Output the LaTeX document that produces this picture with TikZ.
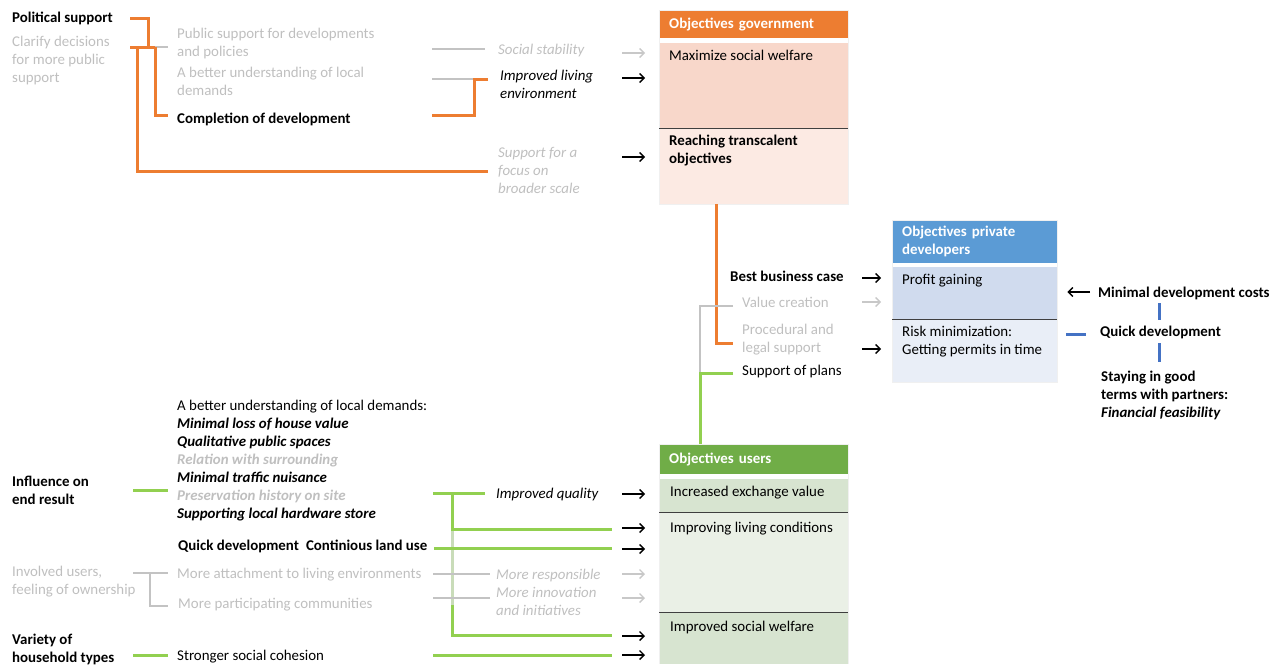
\documentclass[tikz,border=0pt]{standalone}
\usepackage{fontspec}
\setmainfont{Carlito}
\usetikzlibrary{arrows.meta}

\definecolor{orn}{HTML}{ED7D31}
\definecolor{gtx}{HTML}{BFBFBF}
\definecolor{garr}{HTML}{C8C8C8}
\definecolor{gln}{HTML}{C3C3C3}
\definecolor{grn}{HTML}{92D050}
\definecolor{grnpale}{HTML}{C9DCB9}
\definecolor{grnh}{HTML}{70AD47}
\definecolor{blu}{HTML}{5B9BD5}
\definecolor{bluln}{HTML}{4472C4}
\definecolor{gov1}{HTML}{F8D7CA}
\definecolor{gov2}{HTML}{FCEAE3}
\definecolor{dev1}{HTML}{D0DBEE}
\definecolor{dev2}{HTML}{E9EEF7}
\definecolor{usr1}{HTML}{D7E4D0}
\definecolor{usr2}{HTML}{EAF0E6}
\definecolor{sep}{HTML}{3F3F3F}
\definecolor{rim}{HTML}{F0F0F0}

\newcommand\fs{\fontsize{14.9pt}{18pt}\selectfont}
\newcommand\bi[1]{\textbf{\textit{#1}}}

\tikzset{
  txt/.style={anchor=north west, yshift=7pt, inner sep=0pt, align=left,
              font=\fs, execute at begin node=\strut},
  bld/.style={font=\fs\bfseries},
  itl/.style={font=\fs\itshape},
  dim/.style={text=gtx},
  hdr/.style={anchor=north west, text width=169pt, inner xsep=10pt, inner ysep=0pt,
              text=white, font=\fs\bfseries, align=left},
  body/.style={anchor=north west, inner sep=0pt, draw=none},
  sepl/.style={draw=sep, line width=1.5pt},
  rimline/.style={draw=rim, line width=0.6pt},
  ol/.style={draw=orn, line width=3pt},
  gl/.style={draw=gln, line width=2.6pt},
  grl/.style={draw=grn, line width=3pt},
  pal/.style={draw=grnpale, line width=3pt},
  bl/.style={draw=bluln, line width=3pt},
  arr/.style={line width=1.4pt, -{Straight Barb[length=4.5pt,width=9pt]}},
}

\begin{document}
\begin{tikzpicture}[x=1pt, y=-1pt]
\useasboundingbox (0,0) rectangle (1285,664);

% ---------- objectives tables ----------
% government
\node[hdr, fill=orn, minimum height=28pt] (govh) at (659,10) {Objectives government};
\node[body, fill=gov1, minimum width=189pt, minimum height=85pt] (govb1) at (659,43) {};
\node[body, fill=gov2, minimum width=189pt, minimum height=76pt] (govb2) at (659,128) {};
\draw[rimline] (govh.north west) rectangle (govb2.south east);
\draw[sepl] (govb1.south west) -- (govb1.south east);
\node[txt] (t_max) at (669,55) {Maximize social welfare};
\node[txt, bld] (t_reach) at (669,142) {Reaching transcalent\\objectives};

% private developers
\node[hdr, fill=blu, minimum height=43pt, text width=145pt] (devh) at (892,220) {Objectives private\\developers};
\node[body, fill=dev1, minimum width=165pt, minimum height=52pt] (devb1) at (892,267) {};
\node[body, fill=dev2, minimum width=165pt, minimum height=63pt] (devb2) at (892,319) {};
\draw[rimline] (devh.north west) rectangle (devb2.south east);
\draw[sepl] (devb1.south west) -- (devb1.south east);
\node[txt] (t_profit) at (902,279) {Profit gaining};
\node[txt] (t_risk) at (902,333) {Risk minimization:\\Getting permits in time};

% users
\node[hdr, fill=grnh, minimum height=30pt] (usrh) at (659,444) {Objectives users};
\node[body, fill=usr1, minimum width=189pt, minimum height=33pt] (usrb1) at (659,479) {};
\node[body, fill=usr2, minimum width=189pt, minimum height=100pt] (usrb2) at (659,512) {};
\node[body, fill=usr1, minimum width=189pt, minimum height=52pt] (usrb3) at (659,612) {};
\draw[rimline] (usrh.north west) -- (usrb3.south west) (usrh.north west) -- (usrh.north east) -- (usrb3.south east);
\draw[sepl] (usrb1.south west) -- (usrb1.south east);
\draw[sepl] (usrb2.south west) -- (usrb2.south east);
\node[txt] (t_inc) at (670,491) {Increased exchange value};
\node[txt] (t_livc) at (670,527) {Improving living conditions};
\node[txt] (t_sw) at (670,626) {Improved social welfare};

% ---------- government side labels ----------
\node[txt, bld] (t_pol) at (12,17) {Political support};
\node[txt, dim] (t_clar) at (12,43) {Clarify decisions\\for more public\\support};
\node[txt, dim] (t_pub) at (177,35) {Public support for developments\\and policies};
\node[txt, dim] (t_bet) at (177,74) {A better understanding of local\\demands};
\node[txt, bld] (t_comp) at (177,118) {Completion of development};
\node[txt, itl, dim] (t_soc) at (498,49) {Social stability};
\node[txt, itl] (t_imp) at (500,77) {Improved living\\environment};
\node[txt, itl, dim] (t_sup) at (498,154) {Support for a\\focus on\\broader scale};

% brackets towards the government objectives
\coordinate (o1a) at (130,18);  \coordinate (o1b) at (148,47);
\coordinate (o2a) at (130,47);  \coordinate (o2b) at (155,47);  \coordinate (o2c) at (168,47);
\coordinate (o3a) at (137,47);  \coordinate (o3b) at (488,171);
\coordinate (o4b) at (168,115);
\draw[gl] (o2b) -- (o2c);
\draw[ol] (o1a) -| (o1b);
\draw[ol] (o2a) -- (o2b);
\draw[ol] (o3a) |- (o3b);
\draw[ol] (o2b) |- (o4b);

\coordinate (s1a) at (432,49);  \coordinate (s1b) at (485,49);
\coordinate (s2a) at (432,79);  \coordinate (s2b) at (474,79);
\coordinate (s2c) at (488,79);  \coordinate (s2d) at (432,115);
\draw[gl] (s1a) -- (s1b);
\draw[gl] (s2a) -- (s2b);
\draw[ol] (s2c) -- (s2b) |- (s2d);

% arrows into the government table
\coordinate (ga1) at (622,53);
\coordinate (ga2) at (622,78);
\coordinate (ga3) at (622,157);
\draw[arr, garr, shorten >=14pt] (ga1) -- (ga1 -| govb1.west);
\draw[arr, shorten >=14pt] (ga2) -- (ga2 -| govb1.west);
\draw[arr, shorten >=14pt] (ga3) -- (ga3 -| govb2.west);

% ---------- developer side labels ----------
\node[txt, bld] (t_best) at (730,276) {Best business case};
\node[txt, dim] (t_val) at (742,302) {Value creation};
\node[txt, dim] (t_proc) at (742,331) {Procedural and\\legal support};
\node[txt] (t_plans) at (742,370) {Support of plans};

\coordinate (m1) at (733,343);
\coordinate (m2) at (733,306);
\coordinate (m3) at (700,373);
\coordinate (m4) at (733,373);
\draw[ol] (govb2.south -| 716,0) |- (m1);
\draw[gl] (m2) -| (m3);
\draw[grl] (m4) -| (usrh.north -| m3);

\coordinate (da1) at (862,278);
\coordinate (da2) at (862,302);
\coordinate (da3) at (862,349);
\draw[arr, shorten >=11pt] (da1) -- (da1 -| devb1.west);
\draw[arr, garr, shorten >=11pt] (da2) -- (da2 -| devb1.west);
\draw[arr, shorten >=11pt] (da3) -- (da3 -| devb2.west);

\node[txt, bld] (t_mdc) at (1098,292) {Minimal development costs};
\node[txt, bld] (t_qd) at (1100,331) {Quick development};
\node[txt, bld] (t_stay) at (1101,378) {Staying in good\\terms with partners:\\\textit{Financial feasibility}};
\draw[arr, shorten <=8pt, shorten >=10pt] (t_mdc.west |- 0,292) -- (devb1.east |- 0,292);
\coordinate (b1a) at (1159,303); \coordinate (b1b) at (1159,320);
\coordinate (b2a) at (1066,334); \coordinate (b2b) at (1086,334);
\coordinate (b3a) at (1159,343); \coordinate (b3b) at (1159,362);
\draw[bl] (b1a) -- (b1b);
\draw[bl] (b2a) -- (b2b);
\draw[bl] (b3a) -- (b3b);

% ---------- user side labels ----------
\node[txt] (t_list) at (177,407) {A better understanding of local demands:\\
  \bi{Minimal loss of house value}\\
  \bi{Qualitative public spaces}\\
  {\color{gtx}\bi{Relation with surrounding}}\\
  \bi{Minimal traffic nuisance}\\
  {\color{gtx}\bi{Preservation history on site}}\\
  \bi{Supporting local hardware store}};
\node[txt, bld] (t_infl) at (12,483) {Influence on\\end result};
\node[txt, bld] (t_quick) at (178,545) {Quick development\hspace{0.25em} Continious land use};
\node[txt, dim] (t_inv) at (12,573) {Involved users,\\feeling of ownership};
\node[txt, dim] (t_att) at (177,573) {More attachment to living environments};
\node[txt, dim] (t_part) at (178,603) {More participating communities};
\node[txt, bld] (t_var) at (12,641) {Variety of\\household types};
\node[txt] (t_coh) at (177,655) {Stronger social cohesion};
\node[txt, itl] (t_iq) at (496,493) {Improved quality};
\node[txt, itl, dim] (t_resp) at (496,574) {More responsible};
\node[txt, itl, dim] (t_innov) at (496,594) {More innovation\\and initiatives};

% left brackets
\coordinate (l1a) at (133,490); \coordinate (l1b) at (168,490);
\coordinate (l2a) at (133,573); \coordinate (l2b) at (168,573);
\coordinate (l2c) at (150,573); \coordinate (l2d) at (168,606);
\coordinate (l3a) at (133,655); \coordinate (l3b) at (168,655);
\draw[grl] (l1a) -- (l1b);
\draw[gl] (l2a) -- (l2b);
\draw[gl] (l2c) |- (l2d);
\draw[grl] (l3a) -- (l3b);

% right brackets towards the users table
\coordinate (r0) at (452,531);
\coordinate (r0b) at (452,605);
\draw[pal] (r0) -- (r0b);
\coordinate (r1a) at (433,493); \coordinate (r1b) at (485,493);
\coordinate (r1c) at (452,493); \coordinate (r1d) at (612,529);
\coordinate (r2a) at (434,548); \coordinate (r2b) at (612,548);
\coordinate (r3a) at (433,574); \coordinate (r3b) at (490,574);
\coordinate (r4a) at (433,598); \coordinate (r4b) at (490,598);
\coordinate (r5d) at (612,635);
\coordinate (r6a) at (433,655); \coordinate (r6b) at (612,655);
\draw[grl] (r1a) -- (r1b);
\draw[grl] (r1c) |- (r1d);
\draw[grl] (r0b) |- (r5d);
\draw[grl] (r2a) -- (r2b);
\draw[gl] (r3a) -- (r3b);
\draw[gl] (r4a) -- (r4b);
\draw[grl] (r6a) -- (r6b);

\coordinate (ua1) at (622,494);
\coordinate (ua2) at (622,528);
\coordinate (ua3) at (622,549);
\coordinate (ua4) at (622,574);
\coordinate (ua5) at (622,598);
\coordinate (ua6) at (622,636);
\coordinate (ua7) at (622,655);
\draw[arr, shorten >=14pt] (ua1) -- (ua1 -| usrb1.west);
\draw[arr, shorten >=14pt] (ua2) -- (ua2 -| usrb2.west);
\draw[arr, shorten >=14pt] (ua3) -- (ua3 -| usrb2.west);
\draw[arr, garr, shorten >=14pt] (ua4) -- (ua4 -| usrb2.west);
\draw[arr, garr, shorten >=14pt] (ua5) -- (ua5 -| usrb2.west);
\draw[arr, shorten >=14pt] (ua6) -- (ua6 -| usrb3.west);
\draw[arr, shorten >=14pt] (ua7) -- (ua7 -| usrb3.west);
\end{tikzpicture}
\end{document}
